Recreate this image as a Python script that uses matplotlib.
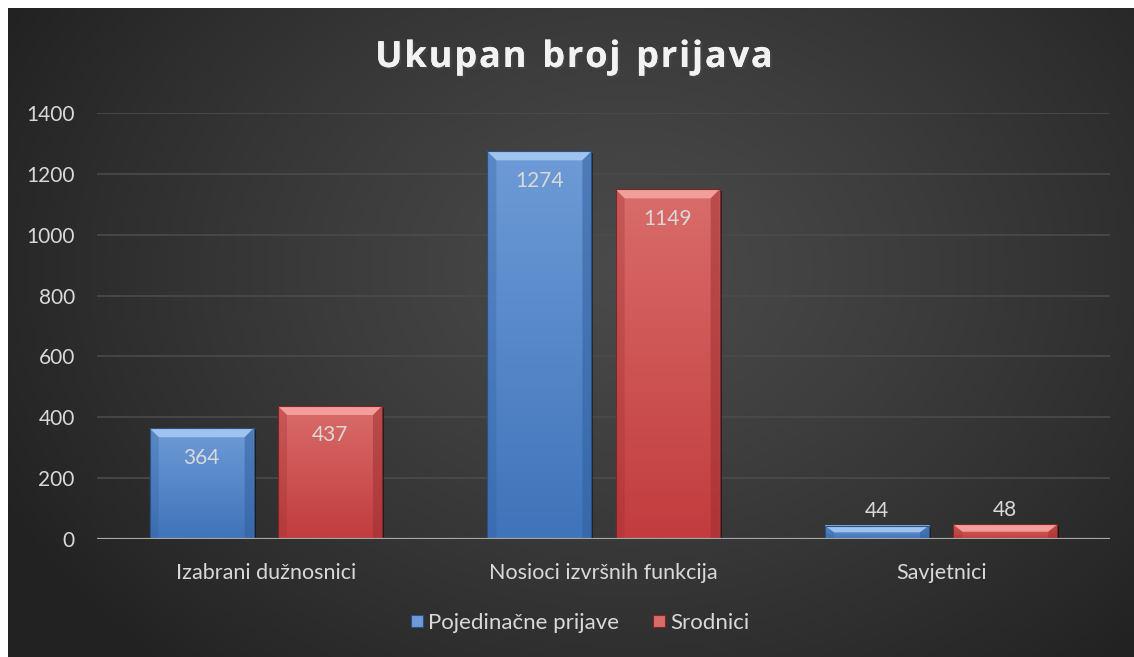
import numpy as np
import matplotlib
matplotlib.use("Agg")
import matplotlib.pyplot as plt
from matplotlib.patches import Polygon, Rectangle
from matplotlib import patheffects as pe
from matplotlib.lines import Line2D

categories = ["Izabrani dužnosnici", "Nosioci izvršnih funkcija", "Savjetnici"]
series_names = ["Pojedinačne prijave", "Srodnici"]
pojedinacne = [364, 1274, 44]
srodnici = [437, 1149, 48]
yticks = [0, 200, 400, 600, 800, 1000, 1200, 1400]
title = "Ukupan broj prijava"

plt.rcParams['font.family'] = ['Lato', 'DejaVu Sans']
TXT = '#d9d9d9'

fig = plt.figure(figsize=(11.34, 6.57), dpi=100)
fig.patch.set_facecolor('white')

# background radial gradient
bg = fig.add_axes([8/1134, 0, 1 - 8/1134, 1 - 8/657])
bg.set_axis_off()
H, W = 300, 520
yy, xx = np.mgrid[0:H, 0:W]
cx, cy = W * 0.55, H * 0.40
r = np.sqrt(((xx - cx) / W) ** 2 + ((yy - cy) / H * 0.75) ** 2)
r = np.clip(r / 0.62, 0, 1)
lum = 0.29 - (0.29 - 0.135) * r ** 1.2
img = np.dstack([lum, lum, lum])
bg.imshow(img, aspect='auto', extent=[0, 1, 0, 1], origin='upper', interpolation='bicubic')
bg.set_xlim(0, 1); bg.set_ylim(0, 1)

ax = fig.add_axes([97/1134, (657-539)/657, (1110-97)/1134, (539-113)/657])
ax.patch.set_alpha(0)
for s in ax.spines.values():
    s.set_visible(False)
ax.set_ylim(0, 1400)
ax.set_xlim(-0.5, 2.5)
ax.set_yticks(yticks)
ax.set_yticklabels([str(t) for t in yticks])
ax.yaxis.grid(True, color='#4b4b4b', lw=1.2)
ax.set_axisbelow(True)
ax.tick_params(axis='y', length=0, labelsize=15, labelcolor=TXT, pad=16)
ax.tick_params(axis='x', length=0, labelsize=15.5, labelcolor=TXT, pad=17)
x = np.arange(len(categories))
ax.set_xticks(x)
ax.set_xticklabels(categories)
ax.axhline(0, color='#a6a6a6', lw=1.6, zorder=5)

width = 0.308
off = 0.19
styles = [
    dict(top='#6e9bd7', bot='#3f74ba', light='#a0c6f0', dark='#2f5e9c', edge='#2b4f80'),
    dict(top='#d96c69', bot='#c23c3e', light='#f4a29e', dark='#9c2f31', edge='#7d2627'),
]

def draw_bar(xc, h, st):
    x0, x1 = xc - width / 2, xc + width / 2
    inv = ax.transData.inverted()
    p0 = ax.transData.transform((x0, 0))
    # shadow
    sx = inv.transform((p0[0] + 2, p0[1]))[0] - x0
    sy = inv.transform((p0[0], p0[1] - 2))[1]
    ax.add_patch(Rectangle((x0 + sx, sy), width, h, facecolor='black', alpha=0.45,
                           edgecolor='none', zorder=2.8))
    # gradient body
    grad = np.linspace(0, 1, 64)[:, None]
    c1 = np.array(matplotlib.colors.to_rgb(st['top']))
    c2 = np.array(matplotlib.colors.to_rgb(st['bot']))
    g = c1[None, None, :] * (1 - grad[..., None]) + c2[None, None, :] * grad[..., None]
    g = np.repeat(g, 4, axis=1)
    ax.imshow(g, extent=[x0, x1, 0, h], aspect='auto', origin='upper', zorder=3,
              interpolation='bilinear')
    # bevel
    bx = inv.transform((p0[0] + 9, p0[1]))[0] - x0
    by = inv.transform((p0[0], p0[1] + 9))[1]
    by = min(by, h * 0.5)
    bx = min(bx, width * 0.3)
    top = Polygon([(x0, h), (x1, h), (x1 - bx, h - by), (x0 + bx, h - by)],
                  closed=True, facecolor=st['light'], edgecolor='none', zorder=4, alpha=0.95)
    left = Polygon([(x0, 0), (x0, h), (x0 + bx, h - by), (x0 + bx, 0)],
                   closed=True, facecolor=st['dark'], edgecolor='none', zorder=4, alpha=0.3)
    right = Polygon([(x1, 0), (x1, h), (x1 - bx, h - by), (x1 - bx, 0)],
                    closed=True, facecolor=st['dark'], edgecolor='none', zorder=4, alpha=0.5)
    for p in (top, left, right):
        ax.add_patch(p)
    ax.add_patch(Rectangle((x0, 0), width, h, facecolor='none', edgecolor=st['edge'],
                           lw=0.8, zorder=4))

fig.canvas.draw()
for i, vals in enumerate([pojedinacne, srodnici]):
    xs = x + (-off if i == 0 else off)
    for xc, v in zip(xs, vals):
        draw_bar(xc, v, styles[i])
        if v > 150:
            ax.annotate(str(v), (xc, v), xytext=(0, -14), textcoords='offset points',
                        ha='center', va='top', fontsize=15, color=TXT, zorder=6)
        else:
            ax.annotate(str(v), (xc, v), xytext=(0, 3), textcoords='offset points',
                        ha='center', va='bottom', fontsize=15, color=TXT, zorder=6)
ax.set_xlim(-0.5, 2.5)
ax.set_ylim(0, 1400)

# legend
handles = [Line2D([], [], marker='s', ls='none', markersize=9, markerfacecolor=styles[i]['top'],
                  markeredgecolor=styles[i]['edge'], markeredgewidth=0.8) for i in range(2)]
leg = fig.legend(handles, series_names, loc='center', bbox_to_anchor=(579/1134, 1 - 623/657),
                 ncol=2, frameon=False, fontsize=16, labelcolor=TXT, handletextpad=0.1,
                 columnspacing=1.4, handlelength=0.8)

# title with letter spacing
renderer = fig.canvas.get_renderer()
tprops = dict(fontsize=26, fontweight='bold', color='#f2f2f2', family=['Open Sans', 'DejaVu Sans'])
spacing = 1.8
widths = []
for ch in title:
    t = fig.text(0, 0, ch if ch != ' ' else 'a', **tprops)
    bb = t.get_window_extent(renderer)
    w = bb.width if ch != ' ' else bb.width * 0.55
    widths.append(w)
    t.remove()
total = sum(widths) + spacing * (len(title) - 1)
cxp = 574
xp = cxp - total / 2
for ch, w in zip(title, widths):
    if ch != ' ':
        fig.text(xp / 1134, 1 - 58 / 657, ch, ha='left', va='center', **tprops,
                 path_effects=[pe.withSimplePatchShadow(offset=(1.5, -1.5), alpha=0.6), pe.Normal()])
    xp += w + spacing

fig.savefig('out.png', dpi=100, facecolor=fig.get_facecolor())
